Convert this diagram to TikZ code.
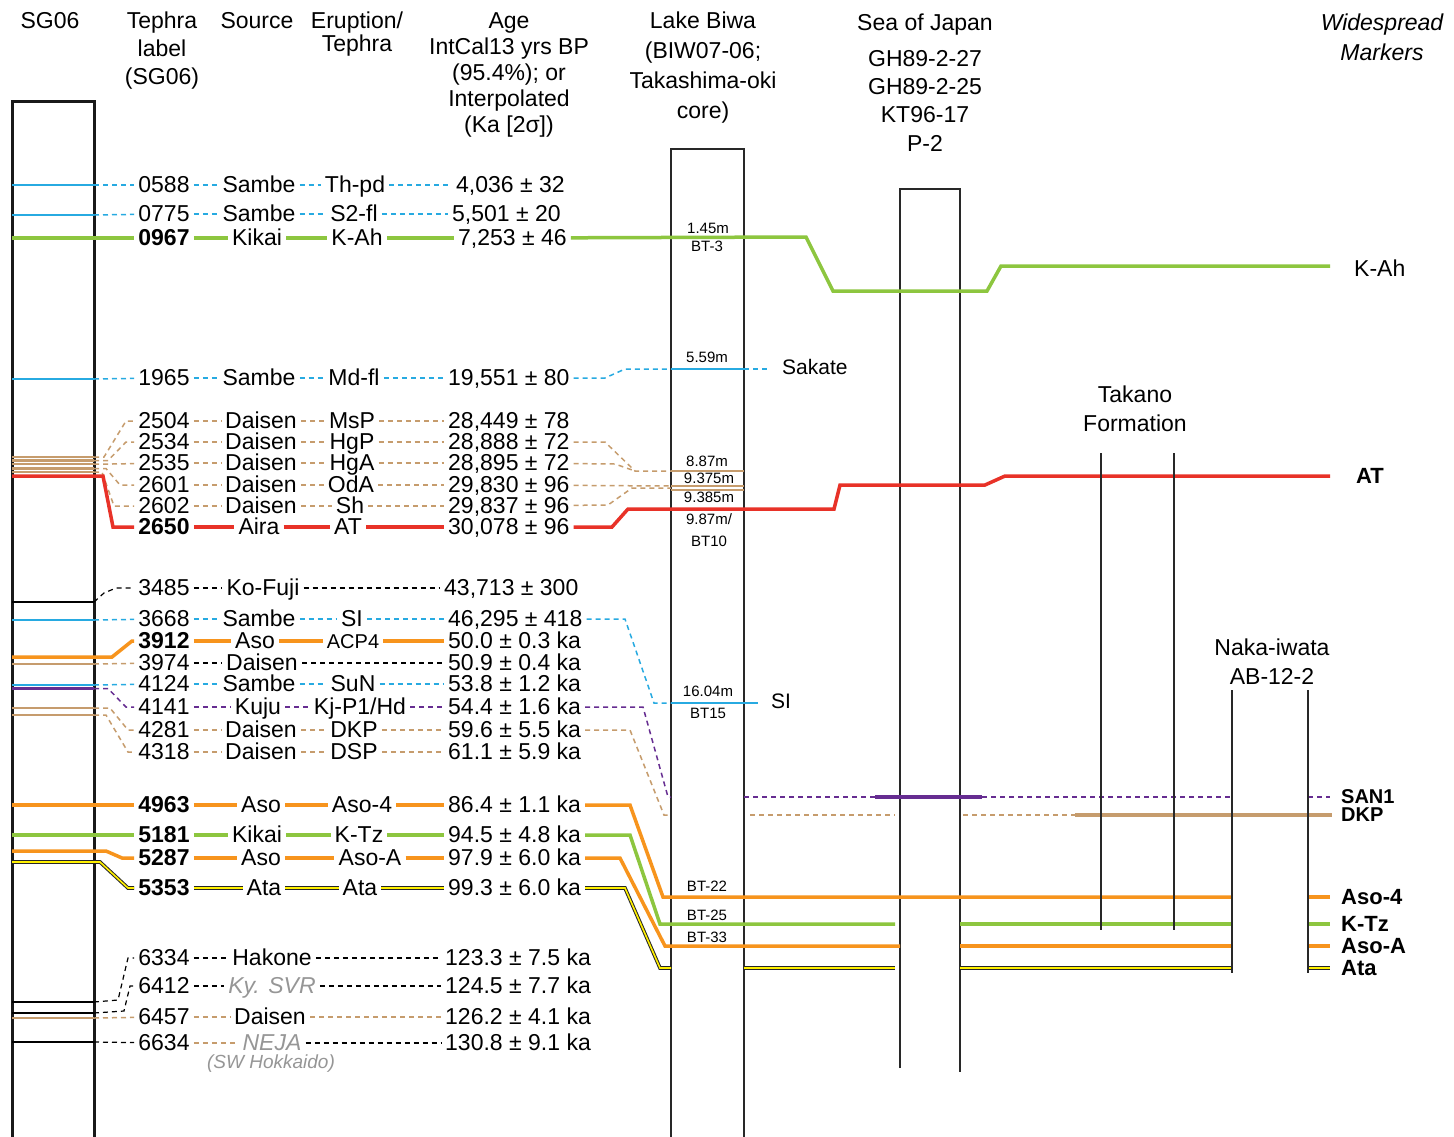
\documentclass[tikz,border=0pt]{standalone}
\usepackage{fontspec}
\setmainfont{Liberation Sans}
\definecolor{sblue}{RGB}{39,170,225}
\definecolor{kgreen}{RGB}{141,198,63}
\definecolor{tanc}{RGB}{198,156,109}
\definecolor{ared}{RGB}{232,50,40}
\definecolor{aorange}{RGB}{247,148,29}
\definecolor{purp}{RGB}{102,45,145}
\definecolor{ayellow}{RGB}{255,240,0}
\definecolor{grayc}{RGB}{150,150,150}
\definecolor{colc}{RGB}{40,40,40}
\def\agex{444}
\newcommand\trow[9]{%
 \node[txt] (n#1) at (164,#2) {#3};
 \node[txt] (s#1) at (#4,#2) {#5};
 \node[txt] (e#1) at (#6,#2) {#7};
 \node[txt,anchor=west] (a#1) at (\agex,#2) {#8};
 \draw[#9] (n#1) -- (s#1) -- (e#1) -- (a#1);}
\newcommand\trowb[8]{%
 \node[txt] (n#1) at (164,#2) {#3};
 \node[txt] (s#1) at (#4,#2) {#5};
 \node[txt,anchor=west] (a#1) at (\agex,#2) {#6};
 \draw[#7] (n#1) -- (s#1);
 \draw[#8] (s#1) -- (a#1);}
\begin{document}
\begin{tikzpicture}[x=1pt,y=-1pt,
 txt/.style={font=\fontsize{23}{26}\selectfont, inner xsep=4pt, inner ysep=0pt, text height=17pt, text depth=2pt},
 hdr/.style={font=\fontsize{23}{28}\selectfont, align=center, inner sep=0pt, anchor=north},
 lbl/.style={font=\fontsize{15}{16}\selectfont, inner sep=1pt},
 mk/.style={font=\fontsize{22}{22}\selectfont\bfseries, inner sep=1pt, anchor=west},
 dsh/.style={dash pattern=on 5pt off 4pt},
 dblue/.style={draw=sblue, line width=1.5pt, dsh},
 dtan/.style={draw=tanc, line width=1.5pt, dsh},
 dblack/.style={draw=black, line width=1.2pt, dsh},
 dpurple/.style={draw=purp, line width=1.5pt, dsh},
 sgreen/.style={draw=kgreen, line width=3.5pt},
 sred/.style={draw=ared, line width=3.5pt},
 sorange/.style={draw=aorange, line width=3.5pt},
 ata/.style={draw=black!85, double=ayellow, double distance=1.6pt, line width=1pt},
 cblue/.style={draw=sblue, line width=1.5pt},
 ctan/.style={draw=tanc, line width=2.5pt},
 cblack/.style={draw=black, line width=1.5pt},
 cpurple/.style={draw=purp, line width=2.5pt},
 col/.style={draw=colc, line width=1.5pt},
 sgcol/.style={draw=black!90, line width=3pt}]
\useasboundingbox (0,0) rectangle (1454,1136);
\fill[white] (0,0) rectangle (1454,1136);

% ---------- headers
\node[hdr] (hsg) at (50,12) {SG06};
\node[hdr] (htl) at (162,12) {Tephra\\label\\(SG06)};
\node[hdr] (hsrc) at (257,12) {Source};
\node[hdr, font=\fontsize{23}{23}\selectfont] (her) at (357,12) {Eruption/\\Tephra};
\node[hdr, font=\fontsize{23}{26}\selectfont] (hage) at (509,12) {Age\\IntCal13 yrs BP\\(95.4\%); or\\Interpolated\\(Ka [2σ])};
\node[hdr, font=\fontsize{23}{30}\selectfont] (hlb) at (703,12) {Lake Biwa\\(BIW07-06;\\Takashima-oki\\core)};
\node[hdr] (hsj) at (925,14) {Sea of Japan};
\node[hdr, font=\fontsize{23}{28.3}\selectfont] (hsj2) at (925,50) {GH89-2-27\\GH89-2-25\\KT96-17\\P-2};
\node[hdr, font=\fontsize{23}{30}\selectfont\itshape] (hwm) at (1382,14) {Widespread\\Markers};
\node[hdr, font=\fontsize{23}{29}\selectfont] (htk) at (1135,386) {Takano\\Formation};
\node[hdr, font=\fontsize{23}{29}\selectfont] (hni) at (1272,639) {Naka-iwata\\AB-12-2};

% ---------- columns
\draw[sgcol] (12,1140) -- (12,101) -- (94,101) -- (94,1140);
\draw[col] (671,1140) -- (671,149) -- (744,149) -- (744,1140);
\draw[col] (900,1068) -- (900,189) -- (960,189) -- (960,1072);

% ---------- rows
\def\agex{452}
\trow{0588}{185}{0588}{259}{Sambe}{355}{Th-pd}{4,036 ± 32}{dblue}
\def\agex{448}
\trow{0775}{214}{0775}{259}{Sambe}{354}{S2-fl}{5,501 ± 20}{dblue}
\def\agex{454}
\trow{0967}{238}{\textbf{0967}}{257}{Kikai}{357}{K-Ah}{7,253 ± 46}{sgreen}
\def\agex{444}
\trow{1965}{378}{1965}{259}{Sambe}{354}{Md-fl}{19,551 ± 80}{dblue}
\trow{2504}{421}{2504}{261}{Daisen}{352}{MsP}{28,449 ± 78}{dtan}
\trow{2534}{442}{2534}{261}{Daisen}{352}{HgP}{28,888 ± 72}{dtan}
\trow{2535}{463}{2535}{261}{Daisen}{352}{HgA}{28,895 ± 72}{dtan}
\trow{2601}{485}{2601}{261}{Daisen}{351}{OdA}{29,830 ± 96}{dtan}
\trow{2602}{506}{2602}{261}{Daisen}{350}{Sh}{29,837 ± 96}{dtan}
\trow{2650}{527}{\textbf{2650}}{259}{Aira}{348}{AT}{30,078 ± 96}{sred}
\def\agex{440}
\trowb{3485}{588}{3485}{263}{Ko-Fuji}{43,713 ± 300}{dblack}{dblack}
\def\agex{444}
\trow{3668}{619}{3668}{259}{Sambe}{352}{SI}{46,295 ± 418}{dblue}
\trow{3912}{641}{\textbf{3912}}{255}{Aso}{353}{{\fontsize{20}{22}\selectfont ACP4}}{50.0 ± 0.3 ka}{sorange}
\trowb{3974}{663}{3974}{262}{Daisen}{50.9 ± 0.4 ka}{dblack}{dblack}
\trow{4124}{684}{4124}{259}{Sambe}{353}{SuN}{53.8 ± 1.2 ka}{dblue}
\trow{4141}{707}{4141}{258}{Kuju}{360}{Kj-P1/Hd}{54.4 ± 1.6 ka}{dpurple}
\trow{4281}{730}{4281}{261}{Daisen}{354}{DKP}{59.6 ± 5.5 ka}{dtan}
\trow{4318}{752}{4318}{261}{Daisen}{354}{DSP}{61.1 ± 5.9 ka}{dtan}
\trow{4963}{805}{\textbf{4963}}{261}{Aso}{362}{Aso-4}{86.4 ± 1.1 ka}{sorange}
\trow{5181}{835}{\textbf{5181}}{257}{Kikai}{359}{K-Tz}{94.5 ± 4.8 ka}{sgreen}
\trow{5287}{858}{\textbf{5287}}{261}{Aso}{370}{Aso-A}{97.9 ± 6.0 ka}{sorange}
\trow{5353}{888}{\textbf{5353}}{264}{Ata}{360}{Ata}{99.3 ± 6.0 ka}{ata}
\def\agex{441}
\trowb{6334}{958}{6334}{272}{Hakone}{123.3 ± 7.5 ka}{dblack}{dblack}
\trowb{6412}{986}{6412}{272}{{\color{grayc}\itshape Ky. SVR}}{124.5 ± 7.7 ka}{dblack}{dblack}
\trowb{6457}{1017}{6457}{270}{Daisen}{126.2 ± 4.1 ka}{dtan}{dtan}
\trowb{6634}{1043}{6634}{272}{{\color{grayc}\itshape NEJA}}{130.8 ± 9.1 ka}{dtan}{dblack}
\node[font=\fontsize{19}{20}\selectfont\itshape, text=grayc, inner sep=1pt] (hok) at (271,1064) {(SW Hokkaido)};

% ---------- SG06 column ties
\draw[cblue] (12,185) -- (94,185); \draw[dblue] (94,185) -- (n0588);
\draw[cblue] (12,215) -- (94,215); \draw[dblue] (94,215) -- (n0775);
\draw[sgreen] (12,238) -- (n0967);
\draw[cblue] (12,379) -- (94,379); \draw[dblue] (94,379) -- (n1965);
\foreach \yy in {457,460.5,464,468.5,472} \draw[ctan] (12,\yy) -- (94,\yy);
\draw[dtan] (94,457) -- (104,457) -- (126,421) -- (n2504);
\draw[dtan] (94,460.5) -- (108,460.5) -- (126,442) -- (n2534);
\draw[dtan] (94,464) -- (112,464) -- (n2535);
\draw[dtan] (94,468.5) -- (106,468.5) -- (120,485) -- (n2601);
\draw[dtan] (94,472) -- (102,472) -- (114,506) -- (n2602);
\draw[sred] (12,476) -- (103,476) -- (113,527) -- (n2650);
\draw[cblack] (12,602) -- (94,602); \draw[dblack] (94,602) -- (104,593) -- (116,588) -- (n3485);
\draw[cblue] (12,620) -- (94,620); \draw[dblue] (94,620) -- (n3668);
\draw[sorange] (12,657) -- (112,657) -- (132,641) -- (n3912);
\draw[ctan] (12,664) -- (94,664); \draw[dtan] (94,664) -- (n3974);
\draw[cblue, line width=2.5pt] (12,685) -- (94,685); \draw[dblue] (94,685) -- (n4124);
\draw[cpurple] (12,688.5) -- (94,688.5); \draw[dpurple] (94,688.5) -- (108,688.5) -- (126,707) -- (n4141);
\draw[ctan] (12,708) -- (94,708); \draw[dtan] (94,708) -- (110,708) -- (128,730) -- (n4281);
\draw[ctan] (12,715) -- (94,715); \draw[dtan] (94,715) -- (106,715) -- (128,752) -- (n4318);
\draw[sorange] (12,805) -- (n4963);
\draw[sgreen] (12,835) -- (n5181);
\draw[sorange] (12,851) -- (106,851) -- (122,858) -- (n5287);
\draw[ata] (12,862) -- (100,862) -- (128,888) -- (n5353);
\draw[cblack] (12,1002) -- (94,1002); \draw[dblack] (94,1002) -- (118,1000) -- (128,958) -- (n6334);
\draw[cblack] (12,1013) -- (94,1013); \draw[dblack] (94,1013) -- (124,1011) -- (130,986) -- (n6412);
\draw[ctan] (12,1018) -- (94,1018); \draw[dtan] (94,1018) -- (n6457);
\draw[cblack] (12,1042) -- (94,1042); \draw[dblack] (94,1042) -- (n6634);

% ---------- right-side correlations
\draw[sgreen] (a0967) -- (806,237) -- (833,291) -- (987,291) -- (1001,266) -- (1330,266);
\draw[dblue] (a1965) -- (605,378) -- (625,369) -- (671,369);
\draw[cblue] (671,369) -- (744,369);
\draw[dblue] (744,369) -- (768,369);
\draw[dtan] (a2534) -- (605,442) -- (635,471) -- (671,471);
\draw[dtan] (a2535) -- (615,464) -- (635,471);
\draw[dtan] (a2601) -- (671,486);
\draw[dtan] (a2602) -- (608,505) -- (632,488) -- (671,488);
\draw[draw=tanc, line width=2pt] (671,471) -- (744,471);
\draw[draw=tanc, line width=2pt] (671,486) -- (744,486);
\draw[draw=tanc, line width=2pt] (671,489.5) -- (744,489.5);
\draw[sred] (a2650) -- (612,527) -- (628,509) -- (834,509) -- (840,485) -- (985,485) -- (1005,476) -- (1330,476);
\draw[dblue] (a3668) -- (625,619) -- (654,703) -- (671,703);
\draw[cblue] (671,703) -- (758,703);
\draw[dpurple] (a4141) -- (643,707) -- (668,797) -- (671,797);
\draw[dpurple] (744,797) -- (875,797);
\draw[draw=purp, line width=3.5pt] (875,797) -- (982,797);
\draw[dpurple] (982,797) -- (1232,797);
\draw[dpurple] (1308,797) -- (1330,797);
\draw[dtan] (a4281) -- (630,730) -- (664,815) -- (671,815);
\draw[dtan] (750,815) -- (895,815);
\draw[dtan] (963,815) -- (1075,815);
\draw[draw=tanc, line width=3.5pt] (1075,815) -- (1332,815);
\draw[sorange] (a4963) -- (630,805) -- (663,897) -- (1232,897);
\draw[sorange] (1308,897) -- (1330,897);
\draw[sgreen] (a5181) -- (630,835) -- (660,924) -- (895,924);
\draw[sgreen] (960,924) -- (1232,924);
\draw[sgreen] (1308,924) -- (1330,924);
\draw[sorange] (a5287) -- (620,858) -- (665,946) -- (900,946);
\draw[sorange] (960,946) -- (1232,946);
\draw[sorange] (1308,946) -- (1330,946);
\draw[ata] (a5353) -- (625,888) -- (660,968) -- (671,968);
\draw[ata] (744,968) -- (895,968);
\draw[ata] (960,968) -- (1232,968);
\draw[ata] (1308,968) -- (1330,968);

% ---------- Takano & Naka-iwata sections
\draw[col] (1101,453) -- (1101,930);
\draw[col] (1174,453) -- (1174,930);
\draw[col] (1232,690) -- (1232,973);
\draw[col] (1308,690) -- (1308,973);

% ---------- Lake Biwa depth labels
\node[lbl] (l1) at (708,228) {1.45m};
\node[lbl] (l2) at (707,246) {BT-3};
\node[lbl] (l3) at (707,357) {5.59m};
\node[lbl] (l4) at (707,461) {8.87m};
\node[lbl] (l5) at (709,478) {9.375m};
\node[lbl] (l6) at (709,497) {9.385m};
\node[lbl] (l7) at (709,519) {9.87m/};
\node[lbl] (l8) at (709,541) {BT10};
\node[lbl] (l9) at (708,691) {16.04m};
\node[lbl] (l10) at (708,713) {BT15};
\node[lbl] (l11) at (707,886) {BT-22};
\node[lbl] (l12) at (707,915) {BT-25};
\node[lbl] (l13) at (707,937) {BT-33};

% ---------- other labels
\node[font=\fontsize{21}{22}\selectfont, inner sep=1pt, anchor=west] (sak) at (781,367) {Sakate};
\node[font=\fontsize{21}{22}\selectfont, inner sep=1pt, anchor=west] (sil) at (770,701) {SI};
\node[font=\fontsize{23}{24}\selectfont, inner sep=1pt, anchor=west] (mkah) at (1353,268) {K-Ah};
\node[mk] (mat) at (1355,476) {AT};
\node[mk, font=\fontsize{20}{20}\selectfont\bfseries] (msan) at (1340,797) {SAN1};
\node[mk, font=\fontsize{20}{20}\selectfont\bfseries] (mdkp) at (1340,815) {DKP};
\node[mk] (maso4) at (1340,897) {Aso-4};
\node[mk] (mktz) at (1340,924) {K-Tz};
\node[mk] (masoa) at (1340,946) {Aso-A};
\node[mk] (mata) at (1340,968) {Ata};
\end{tikzpicture}
\end{document}
